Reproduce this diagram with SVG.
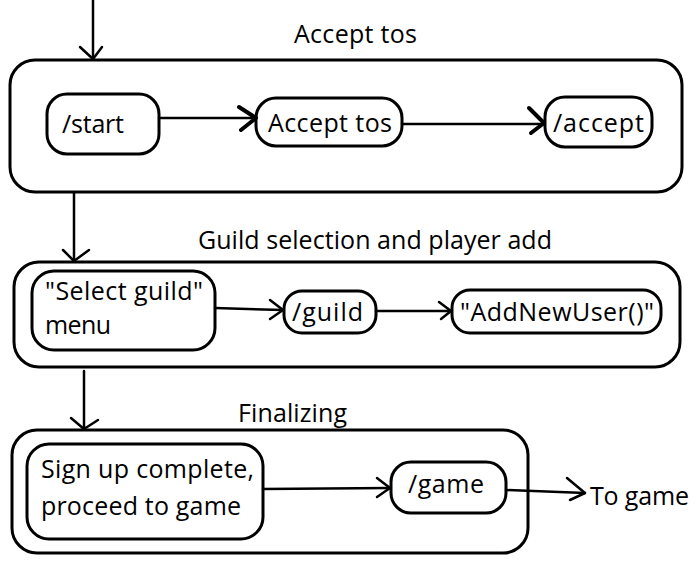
<svg xmlns="http://www.w3.org/2000/svg" width="696" height="564" viewBox="0 0 696 564">
<style>
text{font-family:"Open Sans","Noto Sans",sans-serif;font-size:25px;fill:#000}
.box{fill:#fff;stroke:#000;stroke-width:3}
.ln{fill:none;stroke:#000;stroke-width:2.5;stroke-linecap:round;stroke-linejoin:round}
.hd{fill:none;stroke:#000;stroke-width:4;stroke-linecap:round;stroke-linejoin:round}
</style>
<rect width="696" height="564" fill="#fff"/>
<g id="container-accept">
<rect class="box" x="10" y="60" width="672" height="132" rx="25"/>
<text x="294" y="43" textLength="123">Accept tos</text>
</g>
<g id="container-guild">
<rect class="box" x="14" y="262" width="666" height="105" rx="25"/>
<text x="198" y="249" textLength="354">Guild selection and player add</text>
</g>
<g id="container-final">
<rect class="box" x="12" y="430" width="516" height="123" rx="25"/>
<text x="238" y="422" textLength="109">Finalizing</text>
</g>
<g id="node-start">
<rect class="box" x="47" y="94" width="112" height="60" rx="20"/>
<text x="62" y="133" textLength="62">/start</text>
</g>
<g id="node-accepttos">
<rect class="box" x="256" y="98" width="146" height="48" rx="20"/>
<text x="268" y="132" textLength="124">Accept tos</text>
</g>
<g id="node-accept">
<rect class="box" x="545" y="97" width="107" height="50" rx="20"/>
<text x="553" y="132" textLength="91">/accept</text>
</g>
<g id="node-selectguild">
<rect class="box" x="32" y="271" width="183" height="79" rx="22"/>
<text x="45" y="300" textLength="158">"Select guild"</text>
<text x="45" y="334" textLength="66">menu</text>
</g>
<g id="node-guild">
<rect class="box" x="284" y="291" width="92" height="42" rx="18"/>
<text x="292" y="321" textLength="71">/guild</text>
</g>
<g id="node-addnewuser">
<rect class="box" x="452" y="290" width="209" height="43" rx="18"/>
<text x="460" y="321" textLength="194">"AddNewUser()"</text>
</g>
<g id="node-signup">
<rect class="box" x="27" y="444" width="236" height="95" rx="22"/>
<text x="41" y="478" textLength="213">Sign up complete,</text>
<text x="41" y="515" textLength="200">proceed to game</text>
</g>
<g id="node-game">
<rect class="box" x="391" y="462" width="115" height="51" rx="20"/>
<text x="408" y="493" textLength="76">/game</text>
</g>
<g id="node-togame">
<text x="590" y="505" textLength="99">To game</text>
</g>
<g id="connectors">
<path class="ln" d="M93 0 V59"/>
<path class="ln" d="M80 47 L93 59 L102 47"/>
<path class="ln" d="M159 118 H256"/>
<path class="hd" d="M239 107 L256 118 L241 130"/>
<path class="ln" d="M402 124 H544"/>
<path class="hd" d="M529 108 L544 123 L531 133"/>
<path class="ln" d="M74 193 V261"/>
<path class="ln" d="M63 250 L74 261 L89 250"/>
<path class="ln" d="M215 308 L283 310"/>
<path class="ln" d="M270 300 L283 310 L270 319"/>
<path class="ln" d="M376 311 H451"/>
<path class="ln" d="M439 302 L451 311 L441 319"/>
<path class="ln" d="M84 371 V429"/>
<path class="ln" d="M71 418 L84 429 L98 420"/>
<path class="ln" d="M263 489 L390 488"/>
<path class="ln" d="M377 478 L390 488 L377 497"/>
<path class="ln" d="M506 490 L585 493"/>
<path class="ln" d="M567 478 L585 493 L570 500"/>
</g>
</svg>
